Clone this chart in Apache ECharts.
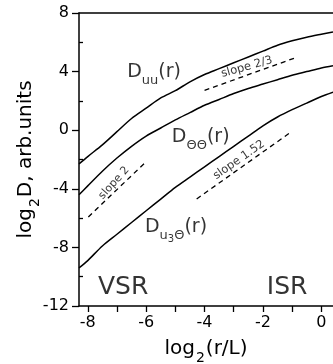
<!DOCTYPE html>
<html><head><meta charset="utf-8">
<script src="https://cdn.jsdelivr.net/npm/echarts@6/dist/echarts.min.js"></script>
<style>html,body{margin:0;padding:0;background:#fff}#c{width:333px;height:364px}</style>
</head><body><div id="c"></div>
<script>
const xs = [-8.3,-8,-7.5,-7,-6.5,-6,-5.5,-5,-4.5,-4,-3.5,-3,-2.5,-2,-1.5,-1,-0.5,0,0.4];
const Duu = [-2.3,-1.8,-1.0,-0.1,0.8,1.5,2.2,2.7,3.3,3.8,4.2,4.6,5.0,5.4,5.8,6.1,6.35,6.55,6.7];
const Dtt = [-4.4,-3.8,-2.8,-1.9,-1.1,-0.4,0.15,0.7,1.2,1.7,2.1,2.5,2.85,3.15,3.45,3.75,4.0,4.25,4.4];
const Du3t = [-9.4,-8.9,-7.9,-7.1,-6.3,-5.5,-4.7,-3.9,-3.2,-2.5,-1.8,-1.1,-0.4,0.3,0.9,1.4,1.85,2.3,2.6];
const slope2 = [[-7.98,-5.92],[-5.98,-2.11]];
const slope23 = [[-4.0,2.72],[-0.85,4.97]];
const slope152 = [[-4.27,-4.69],[-1.09,-0.2]];
const xTicks = [-8,-7,-6,-5,-4,-3,-2,-1,0];
const xLabels = [-8,-6,-4,-2,0];
const yMinor = [-10,-6,-2,2,6];

const F = 'DejaVu Sans';
const ch = echarts.init(document.getElementById('c'));
const pair = a => xs.map((x,i)=>[x,a[i]]);
const curve = a => ({type:'line', data:pair(a), smooth:0.3, symbol:'none', lineStyle:{color:'#000',width:1.5}, silent:true});
const dash = a => ({type:'line', data:a, symbol:'none', lineStyle:{color:'#000',width:1.3,type:[5,4]}, silent:true});
const rich = {
  D:{fontSize:19,fontFamily:F,color:'#000',lineHeight:23},
  s:{fontSize:13,fontFamily:F,color:'#000',verticalAlign:'bottom',lineHeight:23,padding:[0,0,-4,0]},
  ss:{fontSize:10,fontFamily:F,color:'#000',verticalAlign:'bottom',lineHeight:23,padding:[0,0,-6,0]}
};
const nameRich = {
  n:{fontSize:20,fontFamily:F,color:'#000',lineHeight:24},
  s:{fontSize:14,fontFamily:F,color:'#000',verticalAlign:'bottom',lineHeight:24,padding:[0,1,-4,1]}
};
const lab = (x,y,txt,opt) => ({value:[x,y], label:Object.assign({show:true,formatter:txt,position:[0,0],align:'left',verticalAlign:'middle',color:'#000',fontFamily:F,rich:rich},opt||{})});
const labels = [
  lab(-6.65,3.97,'{D|D}{s|uu}{D|(r)}'),
  lab(-5.12,-0.46,'{D|D}{s|ΘΘ}{D|(r)}'),
  lab(-6.04,-6.61,'{D|D}{s|u}{ss|3}{s|Θ}{D|(r)}'),
  lab(-7.10,-3.60,'slope 2',{fontSize:11,rotate:48,align:'center'}),
  lab(-2.55,4.31,'slope 2/3',{fontSize:11.5,rotate:15.7,align:'center'}),
  lab(-2.82,-2.03,'slope 1.52',{fontSize:11.5,rotate:35,align:'center'}),
  lab(-6.79,-10.77,'VSR',{fontSize:25,align:'center'}),
  lab(-1.17,-10.77,'ISR',{fontSize:25,align:'center'})
];
ch.setOption({
  animation:false,
  grid:{left:79,right:0,top:13,bottom:58,containLabel:false,outerBoundsMode:'none'},
  xAxis:[{type:'value',min:-8.3,max:0.4,
    axisLine:{onZero:false,lineStyle:{color:'#000',width:1.5}},
    axisTick:{customValues:xTicks,length:6,lineStyle:{color:'#000',width:1.3}},
    axisLabel:{customValues:xLabels,margin:9,color:'#000',fontSize:16,fontFamily:F},
    splitLine:{show:false},
    name:'{n|log}{s|2}{n|(r/L)}',nameLocation:'middle',nameGap:31,nameTextStyle:{color:'#000',fontFamily:F,rich:nameRich}},
   {type:'value',position:'top',min:-8.3,max:0.4,axisLine:{show:true,onZero:false,lineStyle:{color:'#000',width:1.5}},axisTick:{show:false},axisLabel:{show:false},splitLine:{show:false}}],
  yAxis:[{type:'value',min:-12,max:8,interval:4,position:'left',
    axisLine:{show:true,onZero:false,lineStyle:{color:'#000',width:1.5}},
    axisTick:{show:true,length:7,lineStyle:{color:'#000',width:1.3}},
    axisLabel:{margin:10,color:'#000',fontSize:16,fontFamily:F},
    splitLine:{show:false},
    name:'{n|log}{s|2}{n|D, arb.units}',nameLocation:'middle',nameGap:41,nameMoveOverlap:false,nameTextStyle:{color:'#000',fontFamily:F,rich:nameRich}},
   {type:'value',position:'left',offset:0,min:-12,max:8,axisLine:{show:false,onZero:false},
    axisTick:{show:true,inside:true,customValues:yMinor,length:4,lineStyle:{color:'#000',width:1.3}},
    axisLabel:{show:false},splitLine:{show:false}}],
  series:[curve(Duu),curve(Dtt),curve(Du3t),dash(slope2),dash(slope23),dash(slope152),
    {type:'scatter',symbolSize:0,data:labels,silent:true}]
});
</script></body></html>
